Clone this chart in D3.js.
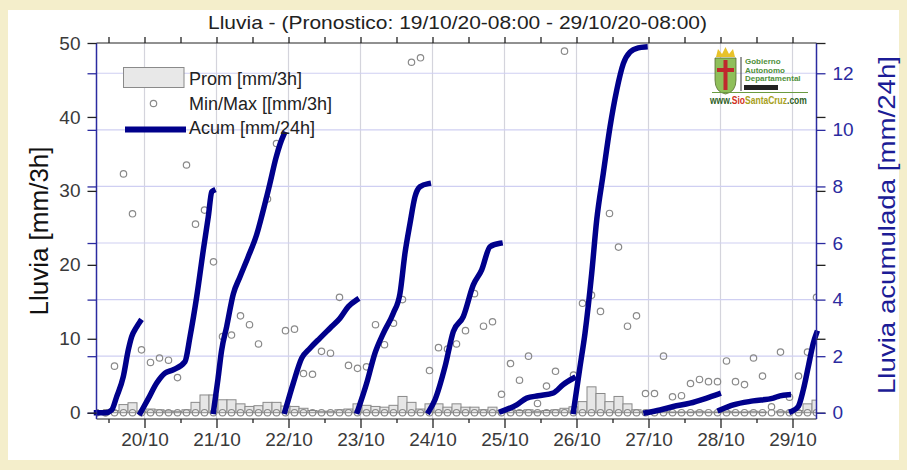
<!DOCTYPE html>
<html><head><meta charset="utf-8">
<script src="https://cdn.jsdelivr.net/npm/d3@7"></script>
<style>
html,body{margin:0;padding:0;background:#f4eecb;}
svg{display:block;font-family:"Liberation Sans",Arial,sans-serif;}
</style>
</head><body>
<svg id="chart" width="907" height="470"></svg>
<script>
// ---------------- DATA ----------------
const titleText = "Lluvia - (Pronostico: 19/10/20-08:00 - 29/10/20-08:00)";
const startTime = new Date(2020, 9, 19, 8, 0);
const endTime = new Date(2020, 9, 29, 8, 0);
const stepHours = 3;
const leftTicks = [0, 10, 20, 30, 40, 50];
const rightTicks = [0, 2, 4, 6, 8, 10, 12];
const dayLabels = ["20/10","21/10","22/10","23/10","24/10","25/10","26/10","27/10","28/10","29/10"];

// Prom [mm/3h], one value every 3 h from the start (81 values)
const promValues = [
  0, 0.1, 0.3, 1.1, 1.35, 0.2, 0.5, 0.4, 0.25, 0.2,
  0.4, 1.4, 2.4, 2.4, 1.75, 1.75, 1.2, 0.85, 0.95, 1.4,
  1.4, 0.9, 0.85, 0.6, 0.3, 0.2, 0.2, 0.4, 0.5, 1.2,
  1.0, 0.85, 0.75, 1.0, 2.2, 1.4, 0.5, 1.2, 1.2, 0.75,
  1.2, 0.75, 0.75, 0.4, 0.75, 0.3, 0.4, 0.3, 0.4, 0.2,
  0.3, 0.4, 0.6, 0.8, 1.5, 3.5, 2.6, 1.5, 2.2, 1.2,
  0.4, 0.1, 0.1, 0.2, 0.1, 0.1, 0.1, 0.2, 0.1, 0.1,
  0.2, 0.1, 0.1, 0.2, 0.1, 0, 0.2, 0.1, 0.3, 1.2,
  1.7
];
// Min [mm/3h]
const minValues = [
  0,0,0,0,0,0,0,0,0,0, 0,0,0,0,0,0,0,0,0,0,
  0,0,0,0,0,0,0,0,0,0, 0,0,0,0,0,0,0,0,0,0,
  0,0,0,0,0,0,0,0,0,0, 0,0,0,0,0,0,0,0,0,0,
  0,0,0,0,0,0,0,0,0,0, 0,0,0,0,0,0,0,0,0,0,
  0
];
// Max [mm/3h]
const maxValues = [
  0, 0, 6.3, 32.3, 26.9, 8.5, 6.8, 7.4, 7.1, 4.75,
  33.5, 25.5, 27.4, 20.4, 10.3, 10.5, 13.1, 11.9, 9.3, 28.9,
  36.4, 11.1, 11.3, 5.3, 5.2, 8.3, 8.05, 15.6, 6.4, 6.0,
  6.2, 11.9, 9.2, 12.1, 15.3, 47.4, 48.0, 5.7, 8.8, 8.6,
  9.3, 11.1, 16.1, 11.7, 12.3, 2.5, 6.65, 4.4, 7.65, 1.25,
  3.6, 5.6, 48.9, 5.1, 14.8, 15.9, 13.7, 26.95, 22.4, 11.7,
  13.1, 2.6, 2.6, 7.65, 2.15, 2.3, 3.95, 4.5, 4.2, 4.2,
  7.0, 4.2, 3.8, 7.4, 4.95, 0.8, 8.2, 2.1, 4.95, 8.2,
  15.6
];
// Acum [mm/24h]: daily segments, hours from start and accumulated values
const acumHours = [
  [0, 3, 5.07, 6.73, 8.93, 10.6, 11.73, 13.4, 14.5],
  [14.67, 17.27, 20.07, 22.83, 25.6, 29.5, 31.17, 33.4, 35.6, 37.27, 38.4, 38.83],
  [39, 40.5, 41.7, 43.4, 45.6, 47.8, 50.5, 53.4, 55.2, 57.8, 59.8, 61.2, 62.5],
  [62.83, 65.6, 68.4, 71.17, 74.5, 77.83, 81.17, 83.93, 86.73],
  [87, 90.07, 92.83, 95.6, 98.93, 101.17, 102.83, 104.5, 106.17, 107.83, 110.6],
  [110.77, 112.83, 116.17, 118.93, 122.27, 125.6, 128.4, 131.17, 134.5],
  [135, 140.07, 143.4, 147.27, 152.27, 155.6, 158.93],
  [159, 161.17, 162.83, 165.07, 166.73, 168.93, 171.17, 173.4, 175.6, 177.83, 180.6, 182.83],
  [183.17, 187.83, 192.27, 197.83, 203.4, 207.27],
  [207.83, 212.27, 218.93, 225.6, 227.83, 230.6],
  [231.73, 233.93, 235.6, 237.27, 238.93, 240]
];
const acumValues = [
  [0, 0, 0.1, 0.57, 1.28, 2.22, 2.69, 3.04, 3.22],
  [0, 0.5, 1.05, 1.4, 1.52, 1.81, 2.69, 4.1, 5.75, 6.93, 7.81, 7.85],
  [0.05, 1.2, 2.2, 3.05, 4.2, 4.8, 5.5, 6.3, 7.0, 8.1, 9.0, 9.5, 9.85],
  [0.05, 1.05, 1.93, 2.28, 2.64, 2.99, 3.34, 3.75, 3.99],
  [0.05, 1.05, 2.11, 2.81, 3.52, 4.22, 5.64, 6.69, 7.64, 7.99, 8.1],
  [0.05, 0.46, 1.63, 2.87, 3.4, 4.52, 5.05, 5.87, 5.99],
  [0.05, 0.28, 0.52, 0.6, 0.7, 1.0, 1.22],
  [0.05, 1.63, 2.81, 4.93, 6.81, 8.46, 10.1, 11.4, 12.34, 12.75, 12.9, 12.93],
  [0, 0.1, 0.22, 0.34, 0.52, 0.66],
  [0.1, 0.28, 0.42, 0.52, 0.6, 0.64],
  [0.05, 0.22, 0.81, 1.63, 2.46, 2.81]
];
const legendLabels = ["Prom [mm/3h]", "Min/Max [[mm/3h]", "Acum [mm/24h]"];
const leftTitle = "Lluvia [mm/3h]";
const rightTitle = "Lluvia acumulada [mm/24h]";
const logoLines = ["Gobierno", "Autonomo", "Departamental"];
const logoUrl = [["www.", "#2f5f1f"], ["Sio", "#d03020"], ["SantaCruz", "#a8a020"], [".com", "#2f5f1f"]];

// ---------------- DRAW ----------------
const svg = d3.select("#chart");
const HOUR = 3600 * 1000;
const tAt = h => new Date(startTime.getTime() + h * HOUR);

const plot = {left: 96.5, right: 816.5, top: 43, bottom: 419};
const x = d3.scaleTime().domain([startTime, endTime]).range([plot.left, plot.right]);
const yL = d3.scaleLinear().domain([-0.85, 50]).range([plot.bottom, plot.top]);
const yR = d3.scaleLinear().domain([-0.22, 13.07]).range([plot.bottom, plot.top]);

const navy = "#00008b";
const axisBlue = "#2b2ba0";
const textGray = "#3a3a3a";

// white panel
svg.append("rect").attr("x", 8).attr("y", 10).attr("width", 891).attr("height", 450).attr("fill", "#ffffff");

// grid
const days = dayLabels.map((d, i) => new Date(2020, 9, 20 + i));
svg.append("g").selectAll("line").data(days).join("line")
  .attr("x1", d => x(d)).attr("x2", d => x(d))
  .attr("y1", plot.top).attr("y2", plot.bottom)
  .attr("stroke", "#d4d4dc").attr("stroke-width", 1.2);
svg.append("g").selectAll("line").data(rightTicks.filter(v => v > 0)).join("line")
  .attr("x1", plot.left).attr("x2", plot.right)
  .attr("y1", d => yR(d)).attr("y2", d => yR(d))
  .attr("stroke", "#cfcff2").attr("stroke-width", 1.2);

// bars (Prom)
const times = promValues.map((v, i) => tAt(i * stepHours));
const barW = x(tAt(stepHours)) - x(tAt(0));
svg.append("clipPath").attr("id", "clp").append("rect")
  .attr("x", plot.left).attr("y", plot.top).attr("width", plot.right - plot.left).attr("height", plot.bottom - plot.top);
const gData = svg.append("g").attr("clip-path", "url(#clp)");
gData.append("g").selectAll("rect").data(promValues).join("rect")
  .attr("x", (d, i) => x(times[i]) - barW / 2)
  .attr("width", barW)
  .attr("y", d => yL(d))
  .attr("height", d => yL(0) - yL(d))
  .attr("fill", "#e6e6e6").attr("stroke", "#8a8a8a").attr("stroke-width", 1);

// min / max circles
const circ = [];
minValues.forEach((v, i) => circ.push({t: times[i], v}));
maxValues.forEach((v, i) => circ.push({t: times[i], v}));
gData.append("g").selectAll("circle").data(circ).join("circle")
  .attr("cx", d => x(d.t)).attr("cy", d => yL(d.v)).attr("r", 3.2)
  .attr("fill", "none").attr("stroke", "#8a8a8a").attr("stroke-width", 1.2);

// Acum lines
const line = d3.line().x(d => x(d.t)).y(d => yR(d.v)).curve(d3.curveMonotoneX);
acumHours.forEach((hs, s) => {
  const pts = hs.map((h, j) => ({t: tAt(h), v: acumValues[s][j]}));
  svg.append("path").datum(pts).attr("d", line)
    .attr("fill", "none").attr("stroke", navy).attr("stroke-width", 5.5)
    .attr("stroke-linejoin", "miter").attr("stroke-linecap", "square");
});

// frame
svg.append("line").attr("x1", plot.left).attr("x2", plot.right).attr("y1", plot.top).attr("y2", plot.top).attr("stroke", "#222");
svg.append("line").attr("x1", plot.left).attr("x2", plot.right).attr("y1", plot.bottom).attr("y2", plot.bottom).attr("stroke", "#222");
svg.append("line").attr("x1", plot.left).attr("x2", plot.left).attr("y1", plot.top).attr("y2", plot.bottom).attr("stroke", axisBlue).attr("stroke-width", 1.5);
svg.append("line").attr("x1", plot.right).attr("x2", plot.right).attr("y1", plot.top).attr("y2", plot.bottom).attr("stroke", axisBlue).attr("stroke-width", 1.5);

function styleAxis(g, color, fs) {
  g.select(".domain").remove();
  g.selectAll(".tick line").attr("stroke", color).attr("stroke-width", 1.3);
  g.selectAll(".tick text").attr("fill", fs ? fs : textGray).attr("font-size", 19)
    .attr("font-family", "Liberation Sans, Arial, sans-serif");
}
// left axis
svg.append("g").attr("transform", `translate(${plot.left},0)`)
  .call(d3.axisLeft(yR).tickValues(rightTicks).tickSize(9).tickFormat(""))
  .call(g => styleAxis(g, axisBlue));
svg.append("g").attr("transform", `translate(${plot.left},0)`)
  .call(d3.axisLeft(yL).tickValues(leftTicks).tickSize(9).tickPadding(7))
  .call(g => styleAxis(g, "#222"));
// right axis
svg.append("g").attr("transform", `translate(${plot.right},0)`)
  .call(d3.axisRight(yL).tickValues(leftTicks).tickSize(9).tickFormat(""))
  .call(g => styleAxis(g, "#222"));
svg.append("g").attr("transform", `translate(${plot.right},0)`)
  .call(d3.axisRight(yR).tickValues(rightTicks).tickSize(9).tickPadding(7))
  .call(g => styleAxis(g, axisBlue, axisBlue));
// bottom axis
const halfDays = days.map(d => new Date(d.getTime() - 12 * HOUR)).filter(d => d > startTime && d < endTime);
svg.append("g").attr("transform", `translate(0,${plot.bottom})`)
  .call(d3.axisBottom(x).tickValues(halfDays).tickSize(4).tickFormat(""))
  .call(g => styleAxis(g, "#222"));
svg.append("g").attr("transform", `translate(0,${plot.bottom})`)
  .call(d3.axisBottom(x).tickValues(days).tickSize(9).tickPadding(5).tickFormat((d, i) => dayLabels[i]))
  .call(g => styleAxis(g, "#222"));
// top axis
svg.append("g").attr("transform", `translate(0,${plot.top})`)
  .call(d3.axisTop(x).tickValues(days.concat(halfDays)).tickSize(6).tickFormat(""))
  .call(g => styleAxis(g, "#222"));

// title
svg.append("text").attr("x", 457.5).attr("y", 29).attr("text-anchor", "middle")
  .attr("font-size", 19).attr("fill", "#222").attr("textLength", 499).attr("lengthAdjust", "spacingAndGlyphs")
  .text(titleText);
// axis titles
svg.append("text").attr("transform", "translate(48,231) rotate(-90)").attr("text-anchor", "middle")
  .attr("font-size", 26).attr("fill", "#111")
  .text(leftTitle);
svg.append("text").attr("transform", "translate(895,225) rotate(-90)").attr("text-anchor", "middle")
  .attr("font-size", 24.5).attr("fill", "#1c1c96").attr("textLength", 338).attr("lengthAdjust", "spacingAndGlyphs")
  .text(rightTitle);

// legend
const lg = svg.append("g");
lg.append("rect").attr("x", 123.5).attr("y", 67.5).attr("width", 60.5).attr("height", 20)
  .attr("fill", "#e8e8e8").attr("stroke", "#8a8a8a");
lg.append("circle").attr("cx", 153.5).attr("cy", 103.5).attr("r", 3.2).attr("fill", "none").attr("stroke", "#8a8a8a").attr("stroke-width", 1.2);
lg.append("line").attr("x1", 125).attr("x2", 186).attr("y1", 129.5).attr("y2", 129.5).attr("stroke", navy).attr("stroke-width", 6);
legendLabels.forEach((t, i) => {
  lg.append("text").attr("x", 189).attr("y", 85 + i * 24.5).attr("font-size", 18).attr("fill", "#222").text(t);
});

// logo (simplified)
const logo = svg.append("g");
logo.append("path").attr("d", "M715,58 L736,58 L736,80 Q736,92 725.5,94 Q715,92 715,80 Z")
  .attr("fill", "#8fbf5a").attr("stroke", "#556b2f").attr("stroke-width", 0.8);
logo.append("rect").attr("x", 723.5).attr("y", 60).attr("width", 4).attr("height", 30).attr("fill", "#c0282d");
logo.append("rect").attr("x", 717).attr("y", 68).attr("width", 17).attr("height", 4).attr("fill", "#c0282d");
logo.append("path").attr("d", "M716,57 L718,49 L722,54 L725.5,47 L729,54 L733,49 L735,57 Z").attr("fill", "#e8c22a");
logo.append("line").attr("x1", 741).attr("x2", 741).attr("y1", 57).attr("y2", 91).attr("stroke", "#333").attr("stroke-width", 1);
logoLines.forEach((t, i) => {
  logo.append("text").attr("x", 745).attr("y", 64 + i * 8.5).attr("font-size", 8).attr("font-weight", "bold")
    .attr("fill", "#4f8f3a").text(t);
});
logo.append("rect").attr("x", 744).attr("y", 85).attr("width", 34).attr("height", 5).attr("fill", "#222");
logo.append("line").attr("x1", 712).attr("x2", 808).attr("y1", 92.5).attr("y2", 92.5).attr("stroke", "#6a9a40").attr("stroke-width", 1);
const www = logo.append("g").attr("transform", "translate(710,104) scale(0.85,1)")
  .append("text").attr("x", 0).attr("y", 0).attr("font-size", 10).attr("font-weight", "bold");
logoUrl.forEach(([t, c]) => www.append("tspan").attr("fill", c).text(t));
</script>
</body></html>
